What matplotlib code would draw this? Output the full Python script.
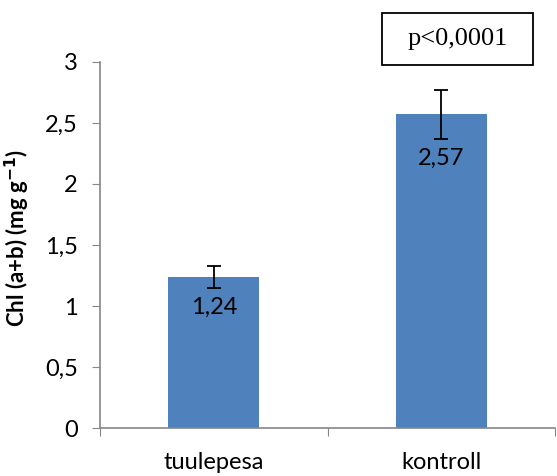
import matplotlib.pyplot as plt
from matplotlib.patches import Rectangle
import numpy as np

groups = ['tuulepesa', 'kontroll']
chl_means = [1.24, 2.57]
chl_err = [0.09, 0.2]
value_labels = ['1,24', '2,57']
y_ticks = [0, 0.5, 1, 1.5, 2, 2.5, 3]
y_tick_labels = ['0', '0,5', '1', '1,5', '2', '2,5', '3']

plt.rcParams['font.family'] = ['Lato', 'DejaVu Sans']

fig = plt.figure(figsize=(5.57, 4.76), dpi=100)
ax = fig.add_axes([0.1795, 0.1008, 0.817, 0.769])

x = np.arange(len(groups))
ax.bar(x, chl_means, width=0.4, color='#4f81bd', zorder=2)
ax.errorbar(x, chl_means, yerr=chl_err, fmt='none', ecolor='black',
            elinewidth=1.3, capsize=5, capthick=1.3, zorder=3)

# value labels go under the lower whisker
for xi, val, err, lab in zip(x, chl_means, chl_err, value_labels):
    ax.text(xi, val - err - 0.16, lab, ha='center', va='center', fontsize=17, zorder=4)

ax.set_xlim(-0.5, 1.5)
ax.set_ylim(0, 3)
ax.set_yticks(y_ticks)
ax.set_yticklabels(y_tick_labels, fontsize=17)

# category ticks sit on the boundaries, labels in the middle
ax.set_xticks([-0.5, 0.5, 1.5])
ax.set_xticklabels([])
ax.set_xticks(x, minor=True)
ax.set_xticklabels(groups, minor=True, fontsize=17)
ax.tick_params(axis='x', which='minor', length=0, pad=17)
ax.tick_params(axis='x', which='major', direction='out', length=6, color='#868686')
ax.tick_params(axis='y', direction='out', length=6, color='#868686', pad=10)

for side in ['top', 'right']:
    ax.spines[side].set_visible(False)
for side in ['left', 'bottom']:
    ax.spines[side].set_color('#868686')
    ax.spines[side].set_linewidth(1.2)

fig.text(0.032, 0.5, r'Chl (a+b) (mg g$^{\mathbf{-1}}$)', rotation=90,
         ha='center', va='center', fontsize=16, fontweight='bold')

fig.patches.append(Rectangle((0.686, 0.863), 0.271, 0.109, transform=fig.transFigure,
                             facecolor='white', edgecolor='black', linewidth=1.3))
fig.text(0.821, 0.918, 'p<0,0001', ha='center', va='center', fontsize=19,
         family='Liberation Serif')

fig.savefig('out.png', dpi=100)
